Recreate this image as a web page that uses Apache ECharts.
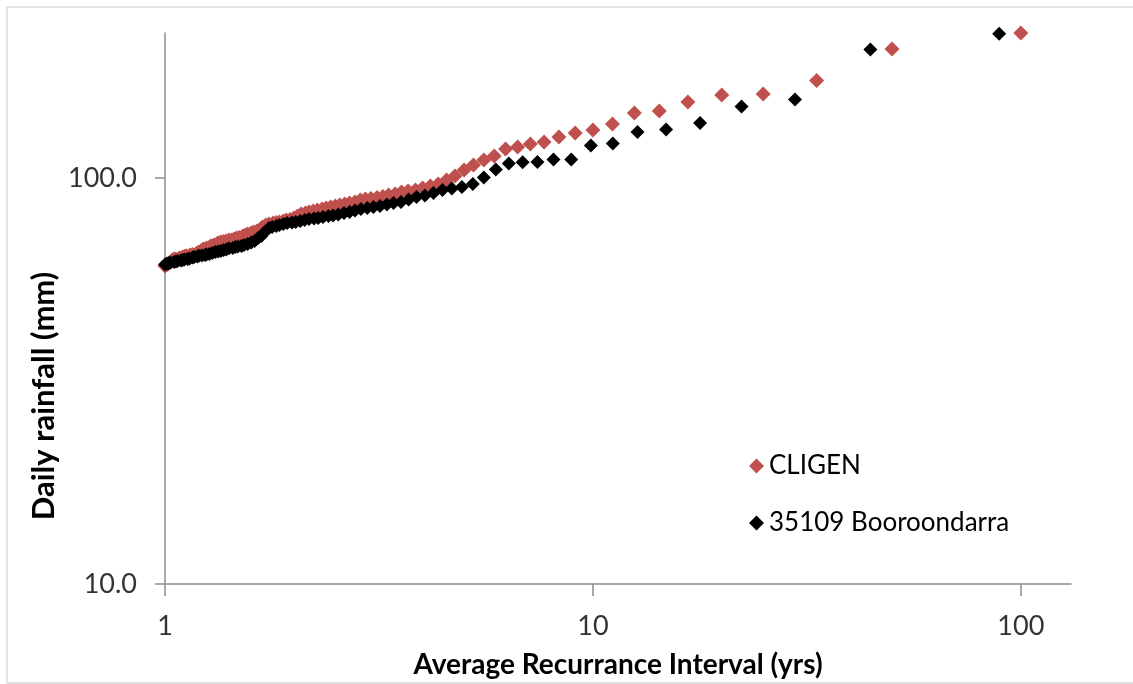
<!DOCTYPE html>
<html>
<head>
<meta charset="utf-8">
<script src="https://cdn.jsdelivr.net/npm/echarts@6/dist/echarts.min.js"></script>
<style>
html,body{margin:0;padding:0;background:#fff;}
#chart{width:1133px;height:684px;}
</style>
</head>
<body>
<div id="chart"></div>
<script>
// Average recurrence interval (yrs) and daily rainfall (mm), ranked
const cligenARI = [
  100, 50, 33.33, 25, 20, 16.67, 14.29, 12.5, 11.11, 10,
  9.09, 8.33, 7.69, 7.14, 6.67, 6.25, 5.88, 5.56, 5.26, 5,
  4.76, 4.55, 4.35, 4.17, 4, 3.85, 3.7, 3.57, 3.45, 3.33,
  3.23, 3.13, 3.03, 2.94, 2.86, 2.78, 2.7, 2.63, 2.56, 2.5,
  2.44, 2.38, 2.33, 2.27, 2.22, 2.17, 2.13, 2.08, 2.04, 2,
  1.96, 1.92, 1.89, 1.85, 1.82, 1.79, 1.75, 1.72, 1.69, 1.67,
  1.64, 1.61, 1.59, 1.56, 1.54, 1.52, 1.49, 1.47, 1.45, 1.43,
  1.41, 1.39, 1.37, 1.35, 1.33, 1.32, 1.3, 1.28, 1.27, 1.25,
  1.23, 1.22, 1.2, 1.19, 1.18, 1.16, 1.15, 1.14, 1.12, 1.11,
  1.1, 1.09, 1.08, 1.06, 1.05, 1.04, 1.03, 1.02, 1.01, 1
];
const cligenRain = [
  227.6, 207.9, 173.9, 161.0, 160.1, 153.9, 146.2, 144.6, 135.8, 131.3,
  129.1, 126.2, 122.7, 121.3, 119.2, 117.9, 113.3, 110.7, 107.7, 104.6,
  101.1, 98.9, 96.7, 95.6, 94.5, 93.4, 92.9, 92.4, 91.3, 90.8,
  90.0, 89.5, 89.0, 88.8, 88.3, 87.3, 86.8, 86.3, 85.8, 85.3,
  84.8, 84.4, 83.9, 83.4, 82.9, 82.5, 82.0, 81.5, 80.6, 79.7,
  79.0, 78.8, 78.4, 77.9, 77.7, 77.5, 77.0, 76.6, 75.7, 74.9,
  74.0, 73.6, 73.2, 72.8, 72.4, 72.0, 71.4, 71.2, 70.8, 70.4,
  70.4, 70.0, 69.8, 69.6, 69.2, 68.8, 68.4, 68.0, 67.6, 67.2,
  66.9, 66.5, 65.7, 65.4, 65.0, 64.8, 64.6, 64.4, 64.3, 64.1,
  63.9, 63.5, 63.5, 63.2, 63.2, 62.8, 62.1, 61.7, 61.1, 60.7
];
const stationARI = [
  89, 44.5, 29.67, 22.25, 17.8, 14.83, 12.71, 11.13, 9.89, 8.9,
  8.09, 7.42, 6.85, 6.36, 5.93, 5.56, 5.24, 4.94, 4.68, 4.45,
  4.24, 4.05, 3.87, 3.71, 3.56, 3.42, 3.3, 3.18, 3.07, 2.97,
  2.87, 2.78, 2.7, 2.62, 2.54, 2.47, 2.41, 2.34, 2.28, 2.23,
  2.17, 2.12, 2.07, 2.02, 1.98, 1.93, 1.89, 1.85, 1.82, 1.78,
  1.75, 1.71, 1.68, 1.65, 1.62, 1.59, 1.56, 1.53, 1.51, 1.48,
  1.46, 1.44, 1.41, 1.39, 1.37, 1.35, 1.33, 1.31, 1.29, 1.27,
  1.25, 1.24, 1.22, 1.2, 1.19, 1.17, 1.16, 1.14, 1.13, 1.11,
  1.1, 1.09, 1.07, 1.06, 1.05, 1.03, 1.02, 1.01, 1
];
const stationRain = [
  226.5, 207.3, 156.1, 150.0, 136.6, 131.7, 129.8, 121.6, 120.3, 111.1,
  111.0, 109.5, 109.4, 108.6, 104.9, 100.3, 96.7, 95.0, 94.2, 93.4,
  91.9, 90.6, 89.8, 88.5, 87.3, 86.8, 86.1, 85.3, 84.8, 84.4,
  83.9, 83.2, 82.5, 82.0, 81.3, 80.9, 80.6, 80.2, 79.7, 79.5,
  79.3, 78.8, 78.4, 77.9, 77.7, 77.5, 77.0, 76.6, 76.2, 75.7,
  75.3, 73.6, 72.0, 71.2, 70.0, 69.4, 68.8, 68.4, 68.0, 67.8,
  67.6, 67.2, 67.1, 66.7, 66.5, 66.1, 65.9, 65.7, 65.4, 65.0,
  64.8, 64.6, 64.4, 64.3, 64.1, 63.9, 63.7, 63.3, 63.2, 63.0,
  62.8, 62.6, 62.5, 62.3, 62.1, 61.9, 61.7, 61.6, 61.2
];
const seriesNames = ['CLIGEN', '35109 Booroondarra'];
const xTicks = [1, 10, 100];
const yTicks = [10, 100];

const FONT = 'Lato';
const AXIS = '#8c8c8c';
const zip = (a, b) => a.map((v, i) => [v, b[i]]);

const chart = echarts.init(document.getElementById('chart'));
chart.setOption({
  animation: false,
  backgroundColor: '#fff',
  textStyle: { fontFamily: FONT },
  graphic: [
    { type: 'rect', shape: { x: 7, y: 7, width: 1140, height: 676 },
      style: { fill: 'none', stroke: '#d9d9d9', lineWidth: 1.5 }, silent: true, z: -10 },
    { type: 'text', x: 44, y: 396, rotation: Math.PI / 2,
      style: { text: 'Daily rainfall (mm)', fontFamily: FONT, fontSize: 31, fontWeight: 'bold',
               fill: '#000', align: 'center', verticalAlign: 'middle' } }
  ],
  grid: { left: 165, top: 33, right: 62, bottom: 100, containLabel: false },
  legend: {
    orient: 'vertical', left: 744, top: 448, itemGap: 31,
    itemWidth: 15, itemHeight: 15, icon: 'diamond',
    textStyle: { fontFamily: FONT, fontSize: 26, color: '#000' },
    data: seriesNames
  },
  xAxis: {
    type: 'log', logBase: 10, min: 1, max: 131,
    name: 'Average Recurrance Interval (yrs)', nameLocation: 'middle', nameGap: 67,
    nameTextStyle: { fontFamily: FONT, fontSize: 28, fontWeight: 'bold', color: '#000' },
    axisLine: { show: true, lineStyle: { color: AXIS, width: 1.5 } },
    axisTick: { show: true, length: 12, inside: false, customValues: xTicks, lineStyle: { color: AXIS, width: 1.5 } },
    axisLabel: { customValues: xTicks, margin: 29, fontSize: 27, color: '#333', fontFamily: FONT },
    splitLine: { show: false }
  },
  yAxis: {
    type: 'log', logBase: 10, min: 10, max: 227.6,
    axisLine: { show: true, lineStyle: { color: AXIS, width: 1.5 } },
    axisTick: { show: true, length: 10, inside: false, customValues: yTicks, lineStyle: { color: AXIS, width: 1.5 } },
    axisLabel: { customValues: yTicks, margin: 28, fontSize: 27, color: '#333', fontFamily: FONT,
                 formatter: v => Number(v).toFixed(1) },
    splitLine: { show: true, showMinLine: false, showMaxLine: false, lineStyle: { color: AXIS, width: 1.5 } }
  },
  series: [
    { name: seriesNames[0], type: 'scatter', symbol: 'diamond', symbolSize: 15, clip: false,
      itemStyle: { color: '#C0504D', opacity: 1 }, data: zip(cligenARI, cligenRain) },
    { name: seriesNames[1], type: 'scatter', symbol: 'diamond', symbolSize: 14, clip: false,
      itemStyle: { color: '#000000', opacity: 1 }, data: zip(stationARI, stationRain) }
  ]
});
</script>
</body>
</html>
